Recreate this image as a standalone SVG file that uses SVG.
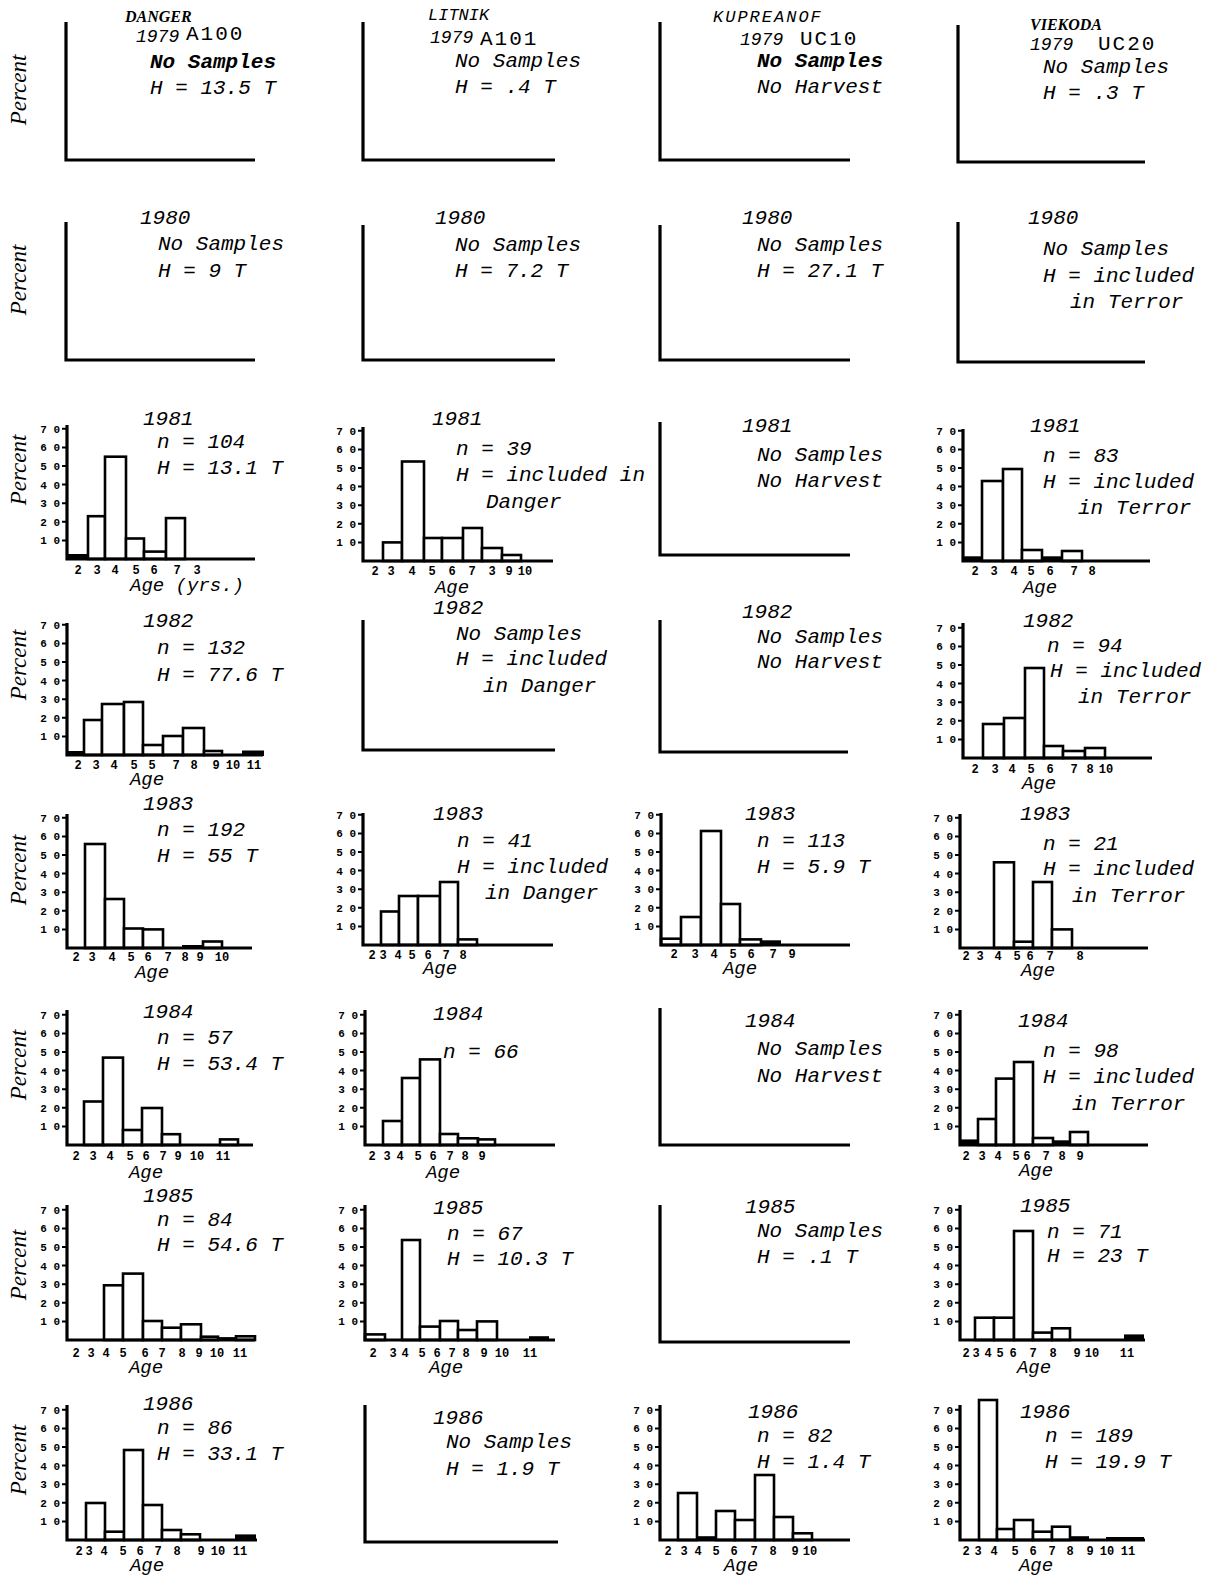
<svg xmlns="http://www.w3.org/2000/svg" xmlns:xlink="http://www.w3.org/1999/xlink" width="1218" height="1580" viewBox="0 0 1218 1580">
<style>
.ax{fill:none;stroke:#000;stroke-width:3.2;stroke-linejoin:miter}
.b{fill:#fff;stroke:#000;stroke-width:2.6}
.d{fill:#000;stroke:#000;stroke-width:2}
.tm{stroke:#000;stroke-width:2}
.t{font-family:"Liberation Mono",monospace;font-style:italic;font-size:21px;fill:#000}
.y9{font-family:"Liberation Mono",monospace;font-style:italic;font-size:18px;fill:#000}
.tb{font-family:"Liberation Mono",monospace;font-style:italic;font-weight:bold;font-size:21px;fill:#000}
.u{font-family:"Liberation Mono",monospace;font-size:21px;letter-spacing:2px;fill:#000}
.nm{font-family:"Liberation Mono",monospace;font-style:italic;font-size:17px;fill:#000}
.nmb{font-family:"Liberation Serif",serif;font-style:italic;font-weight:bold;font-size:16px;fill:#000}
.tk{font-family:"Liberation Mono",monospace;font-weight:bold;font-size:11px;fill:#000;text-anchor:end}
.xl{font-family:"Liberation Mono",monospace;font-weight:bold;font-size:12px;fill:#000;text-anchor:middle}
.ag{font-family:"Liberation Mono",monospace;font-style:italic;font-size:19px;fill:#000}
.pc{font-family:"Liberation Serif",serif;font-style:italic;font-size:23px;fill:#000;text-anchor:middle}
</style>
<defs>
<g id="yt">
<path class="tm" d="M-5,-18.6H0M-5,-37.2H0M-5,-55.8H0M-5,-74.4H0M-5,-93H0M-5,-111.6H0M-5,-130.2H0"/>
<text class="tk" x="-7" y="-14.6">1 0</text>
<text class="tk" x="-7" y="-33.2">2 0</text>
<text class="tk" x="-7" y="-51.8">3 0</text>
<text class="tk" x="-7" y="-70.4">4 0</text>
<text class="tk" x="-7" y="-89">5 0</text>
<text class="tk" x="-7" y="-107.6">6 0</text>
<text class="tk" x="-7" y="-126.2">7 0</text>
</g>
</defs>
<rect width="1218" height="1580" fill="#fff"/>

<g id="percent-labels">
<text class="pc" transform="translate(26,90) rotate(-90)">Percent</text>
<text class="pc" transform="translate(26,280) rotate(-90)">Percent</text>
<text class="pc" transform="translate(26,470) rotate(-90)">Percent</text>
<text class="pc" transform="translate(26,665) rotate(-90)">Percent</text>
<text class="pc" transform="translate(26,870) rotate(-90)">Percent</text>
<text class="pc" transform="translate(26,1065) rotate(-90)">Percent</text>
<text class="pc" transform="translate(26,1265) rotate(-90)">Percent</text>
<text class="pc" transform="translate(26,1460) rotate(-90)">Percent</text>
</g>

<!-- Row 1979 -->
<g id="danger-1979">
<path class="ax" d="M66,22V160H255"/>
<text class="nmb" x="125" y="22">DANGER</text>
<text class="y9" x="136" y="42">1979</text>
<text class="u" x="186" y="40">A100</text>
<text class="tb" x="150" y="68">No Samples</text>
<text class="t" x="150" y="94">H = 13.5 T</text>
</g>
<g id="litnik-1979">
<path class="ax" d="M363,22V160H555"/>
<text class="nm" x="428" y="20">LITNIK</text>
<text class="y9" x="430" y="43">1979</text>
<text class="u" x="480" y="45">A101</text>
<text class="t" x="455" y="67">No Samples</text>
<text class="t" x="455" y="93">H = .4 T</text>
</g>
<g id="kupreanof-1979">
<path class="ax" d="M660,22V160H850"/>
<text class="nm" x="713" y="22" letter-spacing="2">KUPREANOF</text>
<text class="y9" x="740" y="45">1979</text>
<text class="u" x="800" y="45">UC10</text>
<text class="tb" x="757" y="67">No Samples</text>
<text class="t" x="757" y="93">No Harvest</text>
</g>
<g id="viekoda-1979">
<path class="ax" d="M958,25V162H1145"/>
<text class="nmb" x="1030" y="30">VIEKODA</text>
<text class="y9" x="1030" y="50">1979</text>
<text class="u" x="1098" y="50">UC20</text>
<text class="t" x="1043" y="73">No Samples</text>
<text class="t" x="1043" y="99">H = .3 T</text>
</g>

<!-- Row 1980 -->
<g id="danger-1980">
<path class="ax" d="M66,222V360H255"/>
<text class="t" x="140" y="224">1980</text>
<text class="t" x="158" y="250">No Samples</text>
<text class="t" x="158" y="277">H = 9 T</text>
</g>
<g id="litnik-1980">
<path class="ax" d="M363,225V360H555"/>
<text class="t" x="435" y="224">1980</text>
<text class="t" x="455" y="251">No Samples</text>
<text class="t" x="455" y="277">H = 7.2 T</text>
</g>
<g id="kupreanof-1980">
<path class="ax" d="M660,225V360H850"/>
<text class="t" x="742" y="224">1980</text>
<text class="t" x="757" y="251">No Samples</text>
<text class="t" x="757" y="277">H = 27.1 T</text>
</g>
<g id="viekoda-1980">
<path class="ax" d="M958,222V362H1145"/>
<text class="t" x="1028" y="224">1980</text>
<text class="t" x="1043" y="255">No Samples</text>
<text class="t" x="1043" y="282">H = included</text>
<text class="t" x="1070" y="308">in Terror</text>
</g>

<!-- Row 1981 -->
<g id="danger-1981" transform="translate(67,559)">
<rect class="d" x="0" y="-4" width="21" height="4"/>
<rect class="b" x="21" y="-42.8" width="17" height="42.8"/>
<rect class="b" x="38" y="-102.3" width="21" height="102.3"/>
<rect class="b" x="59" y="-20.5" width="18" height="20.5"/>
<rect class="b" x="77" y="-7.4" width="22" height="7.4"/>
<rect class="b" x="99" y="-40.9" width="19" height="40.9"/>
<path class="ax" d="M0,-134V0H188"/>
<use href="#yt"/>
<text class="xl" x="11" y="15">2</text><text class="xl" x="30" y="15">3</text><text class="xl" x="48" y="15">4</text><text class="xl" x="69" y="15">5</text><text class="xl" x="87" y="15">6</text><text class="xl" x="110" y="15">7</text><text class="xl" x="130" y="15">3</text>
<text class="ag" x="63" y="32">Age (yrs.)</text>
<text class="t" x="76" y="-134">1981</text>
<text class="t" x="90" y="-111">n = 104</text>
<text class="t" x="90" y="-85">H = 13.1 T</text>
</g>
<g id="litnik-1981" transform="translate(363,561)">
<rect class="b" x="20" y="-18.6" width="19" height="18.6"/>
<rect class="b" x="39" y="-99.5" width="22" height="99.5"/>
<rect class="b" x="61" y="-23" width="18" height="23"/>
<rect class="b" x="79" y="-23" width="21" height="23"/>
<rect class="b" x="100" y="-33" width="19" height="33"/>
<rect class="b" x="119" y="-13" width="20" height="13"/>
<rect class="b" x="139" y="-6" width="19" height="6"/>
<path class="ax" d="M0,-134V0H190"/>
<use href="#yt"/>
<text class="xl" x="12" y="14">2</text><text class="xl" x="28" y="14">3</text><text class="xl" x="49" y="14">4</text><text class="xl" x="69" y="14">5</text><text class="xl" x="89" y="14">6</text><text class="xl" x="109" y="14">7</text><text class="xl" x="129" y="14">3</text><text class="xl" x="146" y="14">9</text><text class="xl" x="162" y="14">10</text>
<text class="ag" x="89" y="32" text-anchor="middle">Age</text>
<text class="t" x="69" y="-136">1981</text>
<text class="t" x="93" y="-106">n = 39</text>
<text class="t" x="93" y="-80">H = included in</text>
<text class="t" x="123" y="-53">Danger</text>
</g>
<g id="kupreanof-1981">
<path class="ax" d="M660,422V555H850"/>
<text class="t" x="742" y="432">1981</text>
<text class="t" x="757" y="461">No Samples</text>
<text class="t" x="757" y="487">No Harvest</text>
</g>
<g id="viekoda-1981" transform="translate(963,561)">
<rect class="d" x="0" y="-3.7" width="19" height="3.7"/>
<rect class="b" x="19" y="-80" width="21" height="80"/>
<rect class="b" x="40" y="-92" width="19" height="92"/>
<rect class="b" x="59" y="-11" width="20" height="11"/>
<rect class="d" x="79" y="-3.7" width="20" height="3.7"/>
<rect class="b" x="99" y="-10" width="20" height="10"/>
<path class="ax" d="M0,-132V0H187"/>
<use href="#yt"/>
<text class="xl" x="12" y="14">2</text><text class="xl" x="31" y="14">3</text><text class="xl" x="51" y="14">4</text><text class="xl" x="68" y="14">5</text><text class="xl" x="87" y="14">6</text><text class="xl" x="111" y="14">7</text><text class="xl" x="129" y="14">8</text>
<text class="ag" x="77" y="32" text-anchor="middle">Age</text>
<text class="t" x="67" y="-129">1981</text>
<text class="t" x="80" y="-99">n = 83</text>
<text class="t" x="80" y="-73">H = included</text>
<text class="t" x="115" y="-47">in Terror</text>
</g>

<!-- Row 1982 -->
<g id="danger-1982" transform="translate(67,755)">
<rect class="d" x="0" y="-3" width="17" height="3"/>
<rect class="b" x="17" y="-35" width="18" height="35"/>
<rect class="b" x="35" y="-51" width="22" height="51"/>
<rect class="b" x="57" y="-53" width="19" height="53"/>
<rect class="b" x="76" y="-10" width="20" height="10"/>
<rect class="b" x="96" y="-19" width="20" height="19"/>
<rect class="b" x="116" y="-27" width="21" height="27"/>
<rect class="b" x="137" y="-4" width="18" height="4"/>
<rect class="d" x="176" y="-3.5" width="20" height="3.5"/>
<path class="ax" d="M0,-132V0H196"/>
<use href="#yt"/>
<text class="xl" x="11" y="14">2</text><text class="xl" x="29" y="14">3</text><text class="xl" x="47" y="14">4</text><text class="xl" x="67" y="14">5</text><text class="xl" x="85" y="14">5</text><text class="xl" x="109" y="14">7</text><text class="xl" x="127" y="14">8</text><text class="xl" x="149" y="14">9</text><text class="xl" x="166" y="14">10</text><text class="xl" x="187" y="14">11</text>
<text class="ag" x="80" y="30" text-anchor="middle">Age</text>
<text class="t" x="76" y="-128">1982</text>
<text class="t" x="90" y="-101">n = 132</text>
<text class="t" x="90" y="-74">H = 77.6 T</text>
</g>
<g id="litnik-1982">
<path class="ax" d="M363,620V750H555"/>
<text class="t" x="433" y="614">1982</text>
<text class="t" x="456" y="640">No Samples</text>
<text class="t" x="456" y="665">H = included</text>
<text class="t" x="483" y="692">in Danger</text>
</g>
<g id="kupreanof-1982">
<path class="ax" d="M660,620V752H848"/>
<text class="t" x="742" y="618">1982</text>
<text class="t" x="757" y="643">No Samples</text>
<text class="t" x="757" y="668">No Harvest</text>
</g>
<g id="viekoda-1982" transform="translate(963,758)">
<rect class="b" x="20" y="-34" width="21" height="34"/>
<rect class="b" x="41" y="-40" width="21" height="40"/>
<rect class="b" x="62" y="-90" width="19" height="90"/>
<rect class="b" x="81" y="-12" width="19" height="12"/>
<rect class="b" x="100" y="-7" width="22" height="7"/>
<rect class="b" x="122" y="-10" width="20" height="10"/>
<path class="ax" d="M0,-135V0H189"/>
<use href="#yt"/>
<text class="xl" x="12" y="15">2</text><text class="xl" x="32" y="15">3</text><text class="xl" x="49" y="15">4</text><text class="xl" x="68" y="15">5</text><text class="xl" x="87" y="15">6</text><text class="xl" x="111" y="15">7</text><text class="xl" x="127" y="15">8</text><text class="xl" x="143" y="15">10</text>
<text class="ag" x="76" y="31" text-anchor="middle">Age</text>
<text class="t" x="60" y="-131">1982</text>
<text class="t" x="84" y="-106">n = 94</text>
<text class="t" x="87" y="-81">H = included</text>
<text class="t" x="115" y="-55">in Terror</text>
</g>

<!-- Row 1983 -->
<g id="danger-1983" transform="translate(67,948)">
<rect class="b" x="18" y="-104" width="20" height="104"/>
<rect class="b" x="38" y="-49" width="19" height="49"/>
<rect class="b" x="57" y="-19.5" width="19" height="19.5"/>
<rect class="b" x="76" y="-18.6" width="20" height="18.6"/>
<rect class="d" x="116" y="-2" width="20" height="2"/>
<rect class="b" x="136" y="-6.5" width="19" height="6.5"/>
<path class="ax" d="M0,-134V0H185"/>
<use href="#yt"/>
<text class="xl" x="9" y="13">2</text><text class="xl" x="25" y="13">3</text><text class="xl" x="45" y="13">4</text><text class="xl" x="64" y="13">5</text><text class="xl" x="81" y="13">6</text><text class="xl" x="101" y="13">7</text><text class="xl" x="118" y="13">8</text><text class="xl" x="133" y="13">9</text><text class="xl" x="155" y="13">10</text>
<text class="ag" x="85" y="30" text-anchor="middle">Age</text>
<text class="t" x="76" y="-138">1983</text>
<text class="t" x="90" y="-112">n = 192</text>
<text class="t" x="90" y="-86">H = 55 T</text>
</g>
<g id="litnik-1983" transform="translate(363,945)">
<rect class="b" x="18" y="-33.5" width="18" height="33.5"/>
<rect class="b" x="36" y="-49" width="19" height="49"/>
<rect class="b" x="55" y="-49" width="22" height="49"/>
<rect class="b" x="77" y="-63" width="18" height="63"/>
<rect class="b" x="95" y="-5.6" width="19" height="5.6"/>
<path class="ax" d="M0,-132V0H190"/>
<use href="#yt"/>
<text class="xl" x="9" y="14">2</text><text class="xl" x="20" y="14">3</text><text class="xl" x="35" y="14">4</text><text class="xl" x="49" y="14">5</text><text class="xl" x="65" y="14">6</text><text class="xl" x="83" y="14">7</text><text class="xl" x="100" y="14">8</text>
<text class="ag" x="77" y="29" text-anchor="middle">Age</text>
<text class="t" x="70" y="-125">1983</text>
<text class="t" x="94" y="-98">n = 41</text>
<text class="t" x="94" y="-72">H = included</text>
<text class="t" x="122" y="-46">in Danger</text>
</g>
<g id="kupreanof-1983" transform="translate(661,945)">
<rect class="b" x="0" y="-6.3" width="20" height="6.3"/>
<rect class="b" x="20" y="-28" width="20" height="28"/>
<rect class="b" x="40" y="-114" width="20" height="114"/>
<rect class="b" x="60" y="-41" width="19" height="41"/>
<rect class="b" x="79" y="-5.6" width="21" height="5.6"/>
<rect class="d" x="100" y="-3.7" width="19" height="3.7"/>
<path class="ax" d="M0,-132V0H189"/>
<use href="#yt"/>
<text class="xl" x="13" y="13">2</text><text class="xl" x="34" y="13">3</text><text class="xl" x="53" y="13">4</text><text class="xl" x="72" y="13">5</text><text class="xl" x="90" y="13">6</text><text class="xl" x="112" y="13">7</text><text class="xl" x="131" y="13">9</text>
<text class="ag" x="79" y="29" text-anchor="middle">Age</text>
<text class="t" x="84" y="-125">1983</text>
<text class="t" x="96" y="-98">n = 113</text>
<text class="t" x="96" y="-72">H = 5.9 T</text>
</g>
<g id="viekoda-1983" transform="translate(960,948)">
<rect class="b" x="34" y="-85.7" width="20" height="85.7"/>
<rect class="b" x="54" y="-6.3" width="19" height="6.3"/>
<rect class="b" x="73" y="-66" width="19" height="66"/>
<rect class="b" x="92" y="-18.6" width="20" height="18.6"/>
<path class="ax" d="M0,-134V0H188"/>
<use href="#yt"/>
<text class="xl" x="6" y="12">2</text><text class="xl" x="20" y="12">3</text><text class="xl" x="38" y="12">4</text><text class="xl" x="57" y="12">5</text><text class="xl" x="70" y="12">6</text><text class="xl" x="90" y="12">7</text><text class="xl" x="120" y="12">8</text>
<text class="ag" x="78" y="28" text-anchor="middle">Age</text>
<text class="t" x="60" y="-128">1983</text>
<text class="t" x="83" y="-98">n = 21</text>
<text class="t" x="83" y="-73">H = included</text>
<text class="t" x="112" y="-46">in Terror</text>
</g>

<!-- Row 1984 -->
<g id="danger-1984" transform="translate(67,1145)">
<rect class="b" x="17" y="-43.5" width="19" height="43.5"/>
<rect class="b" x="36" y="-87.4" width="20" height="87.4"/>
<rect class="b" x="56" y="-15" width="19" height="15"/>
<rect class="b" x="75" y="-37" width="20" height="37"/>
<rect class="b" x="95" y="-10.8" width="18" height="10.8"/>
<rect class="b" x="153" y="-5.6" width="18" height="5.6"/>
<path class="ax" d="M0,-135V0H186"/>
<use href="#yt"/>
<text class="xl" x="9" y="15">2</text><text class="xl" x="26" y="15">3</text><text class="xl" x="43" y="15">4</text><text class="xl" x="63" y="15">5</text><text class="xl" x="79" y="15">6</text><text class="xl" x="96" y="15">7</text><text class="xl" x="111" y="15">9</text><text class="xl" x="130" y="15">10</text><text class="xl" x="156" y="15">11</text>
<text class="ag" x="79" y="33" text-anchor="middle">Age</text>
<text class="t" x="76" y="-127">1984</text>
<text class="t" x="90" y="-101">n = 57</text>
<text class="t" x="90" y="-75">H = 53.4 T</text>
</g>
<g id="litnik-1984" transform="translate(365,1145)">
<rect class="b" x="18" y="-24" width="19" height="24"/>
<rect class="b" x="37" y="-67" width="18" height="67"/>
<rect class="b" x="55" y="-85.6" width="20" height="85.6"/>
<rect class="b" x="75" y="-11" width="18" height="11"/>
<rect class="b" x="93" y="-6.7" width="20" height="6.7"/>
<rect class="b" x="113" y="-5.6" width="17" height="5.6"/>
<path class="ax" d="M0,-135V0H190"/>
<use href="#yt"/>
<text class="xl" x="7" y="15">2</text><text class="xl" x="22" y="15">3</text><text class="xl" x="35" y="15">4</text><text class="xl" x="53" y="15">5</text><text class="xl" x="68" y="15">6</text><text class="xl" x="85" y="15">7</text><text class="xl" x="100" y="15">8</text><text class="xl" x="117" y="15">9</text>
<text class="ag" x="78" y="33" text-anchor="middle">Age</text>
<text class="t" x="68" y="-125">1984</text>
<text class="t" x="78" y="-87">n = 66</text>
</g>
<g id="kupreanof-1984">
<path class="ax" d="M660,1008V1145H850"/>
<text class="t" x="745" y="1027">1984</text>
<text class="t" x="757" y="1055">No Samples</text>
<text class="t" x="757" y="1082">No Harvest</text>
</g>
<g id="viekoda-1984" transform="translate(960,1145)">
<rect class="d" x="0" y="-4.6" width="18" height="4.6"/>
<rect class="b" x="18" y="-26" width="18" height="26"/>
<rect class="b" x="36" y="-66.4" width="18" height="66.4"/>
<rect class="b" x="54" y="-83" width="19" height="83"/>
<rect class="b" x="73" y="-7" width="20" height="7"/>
<rect class="d" x="93" y="-3.7" width="17" height="3.7"/>
<rect class="b" x="110" y="-13" width="18" height="13"/>
<path class="ax" d="M0,-135V0H188"/>
<use href="#yt"/>
<text class="xl" x="6" y="15">2</text><text class="xl" x="22" y="15">3</text><text class="xl" x="38" y="15">4</text><text class="xl" x="56" y="15">5</text><text class="xl" x="67" y="15">6</text><text class="xl" x="86" y="15">7</text><text class="xl" x="102" y="15">8</text><text class="xl" x="120" y="15">9</text>
<text class="ag" x="76" y="31" text-anchor="middle">Age</text>
<text class="t" x="58" y="-118">1984</text>
<text class="t" x="83" y="-88">n = 98</text>
<text class="t" x="83" y="-62">H = included</text>
<text class="t" x="112" y="-35">in Terror</text>
</g>

<!-- Row 1985 -->
<g id="danger-1985" transform="translate(67,1340)">
<rect class="b" x="37" y="-54.7" width="19" height="54.7"/>
<rect class="b" x="56" y="-66.4" width="20" height="66.4"/>
<rect class="b" x="76" y="-19" width="19" height="19"/>
<rect class="b" x="95" y="-12.3" width="19" height="12.3"/>
<rect class="b" x="114" y="-15.7" width="20" height="15.7"/>
<rect class="b" x="134" y="-3.3" width="17" height="3.3"/>
<rect class="d" x="151" y="-1.9" width="18" height="1.9"/>
<rect class="b" x="169" y="-3.7" width="19" height="3.7"/>
<path class="ax" d="M0,-135V0H188"/>
<use href="#yt"/>
<text class="xl" x="9" y="17">2</text><text class="xl" x="24" y="17">3</text><text class="xl" x="39" y="17">4</text><text class="xl" x="56" y="17">5</text><text class="xl" x="78" y="17">6</text><text class="xl" x="95" y="17">7</text><text class="xl" x="115" y="17">8</text><text class="xl" x="132" y="17">9</text><text class="xl" x="150" y="17">10</text><text class="xl" x="173" y="17">11</text>
<text class="ag" x="79" y="33" text-anchor="middle">Age</text>
<text class="t" x="76" y="-138">1985</text>
<text class="t" x="90" y="-114">n = 84</text>
<text class="t" x="90" y="-89">H = 54.6 T</text>
</g>
<g id="litnik-1985" transform="translate(365,1340)">
<rect class="b" x="0" y="-5.6" width="20" height="5.6"/>
<rect class="b" x="37" y="-100" width="18" height="100"/>
<rect class="b" x="55" y="-13.4" width="20" height="13.4"/>
<rect class="b" x="75" y="-19" width="18" height="19"/>
<rect class="b" x="93" y="-10" width="19" height="10"/>
<rect class="b" x="112" y="-18.6" width="20" height="18.6"/>
<rect class="d" x="165" y="-2.8" width="18" height="2.8"/>
<path class="ax" d="M0,-135V0H190"/>
<use href="#yt"/>
<text class="xl" x="8" y="17">2</text><text class="xl" x="28" y="17">3</text><text class="xl" x="40" y="17">4</text><text class="xl" x="57" y="17">5</text><text class="xl" x="72" y="17">6</text><text class="xl" x="87" y="17">7</text><text class="xl" x="101" y="17">8</text><text class="xl" x="119" y="17">9</text><text class="xl" x="137" y="17">10</text><text class="xl" x="165" y="17">11</text>
<text class="ag" x="81" y="33" text-anchor="middle">Age</text>
<text class="t" x="68" y="-126">1985</text>
<text class="t" x="82" y="-100">n = 67</text>
<text class="t" x="82" y="-75">H = 10.3 T</text>
</g>
<g id="kupreanof-1985">
<path class="ax" d="M660,1205V1342H850"/>
<text class="t" x="745" y="1213">1985</text>
<text class="t" x="757" y="1237">No Samples</text>
<text class="t" x="757" y="1263">H = .1 T</text>
</g>
<g id="viekoda-1985" transform="translate(960,1340)">
<text class="t" x="87" y="-102">n = 71</text>
<text class="t" x="87" y="-78">H = 23 T</text>
<rect class="b" x="15" y="-22.3" width="19" height="22.3"/>
<rect class="b" x="34" y="-22.3" width="20" height="22.3"/>
<rect class="b" x="54" y="-109" width="19" height="109"/>
<rect class="b" x="73" y="-7.4" width="19" height="7.4"/>
<rect class="b" x="92" y="-11.7" width="18" height="11.7"/>
<rect class="d" x="165" y="-4.6" width="18" height="4.6"/>
<path class="ax" d="M0,-135V0H185"/>
<use href="#yt"/>
<text class="xl" x="6" y="17">2</text><text class="xl" x="16" y="17">3</text><text class="xl" x="28" y="17">4</text><text class="xl" x="40" y="17">5</text><text class="xl" x="53" y="17">6</text><text class="xl" x="73" y="17">7</text><text class="xl" x="93" y="17">8</text><text class="xl" x="117" y="17">9</text><text class="xl" x="132" y="17">10</text><text class="xl" x="167" y="17">11</text>
<text class="ag" x="74" y="33" text-anchor="middle">Age</text>
<text class="t" x="60" y="-128">1985</text>
</g>

<!-- Row 1986 -->
<g id="danger-1986" transform="translate(67,1540)">
<rect class="b" x="19" y="-37" width="19" height="37"/>
<rect class="b" x="38" y="-8.3" width="19" height="8.3"/>
<rect class="b" x="57" y="-90" width="19" height="90"/>
<rect class="b" x="76" y="-35" width="19" height="35"/>
<rect class="b" x="95" y="-10" width="19" height="10"/>
<rect class="b" x="114" y="-5.7" width="19" height="5.7"/>
<rect class="d" x="169" y="-4.6" width="19" height="4.6"/>
<path class="ax" d="M0,-135V0H190"/>
<use href="#yt"/>
<text class="xl" x="12" y="15">2</text><text class="xl" x="22" y="15">3</text><text class="xl" x="37" y="15">4</text><text class="xl" x="56" y="15">5</text><text class="xl" x="73" y="15">6</text><text class="xl" x="91" y="15">7</text><text class="xl" x="110" y="15">8</text><text class="xl" x="134" y="15">9</text><text class="xl" x="151" y="15">10</text><text class="xl" x="173" y="15">11</text>
<text class="ag" x="80" y="31" text-anchor="middle">Age</text>
<text class="t" x="76" y="-130">1986</text>
<text class="t" x="90" y="-106">n = 86</text>
<text class="t" x="90" y="-80">H = 33.1 T</text>
</g>
<g id="litnik-1986">
<path class="ax" d="M365,1405V1542H558"/>
<text class="t" x="433" y="1424">1986</text>
<text class="t" x="446" y="1448">No Samples</text>
<text class="t" x="446" y="1475">H = 1.9 T</text>
</g>
<g id="kupreanof-1986" transform="translate(660,1540)">
<rect class="b" x="18" y="-47" width="19" height="47"/>
<rect class="d" x="37" y="-2.8" width="19" height="2.8"/>
<rect class="b" x="56" y="-29" width="19" height="29"/>
<rect class="b" x="75" y="-20" width="20" height="20"/>
<rect class="b" x="95" y="-65" width="19" height="65"/>
<rect class="b" x="114" y="-23" width="19" height="23"/>
<rect class="b" x="133" y="-6.7" width="19" height="6.7"/>
<path class="ax" d="M0,-135V0H190"/>
<use href="#yt"/>
<text class="xl" x="8" y="15">2</text><text class="xl" x="24" y="15">3</text><text class="xl" x="38" y="15">4</text><text class="xl" x="56" y="15">5</text><text class="xl" x="74" y="15">6</text><text class="xl" x="94" y="15">7</text><text class="xl" x="113" y="15">8</text><text class="xl" x="135" y="15">9</text><text class="xl" x="150" y="15">10</text>
<text class="ag" x="81" y="31" text-anchor="middle">Age</text>
<text class="t" x="88" y="-122">1986</text>
<text class="t" x="97" y="-98">n = 82</text>
<text class="t" x="97" y="-72">H = 1.4 T</text>
</g>
<g id="viekoda-1986" transform="translate(960,1540)">
<rect class="b" x="19" y="-140" width="18" height="140"/>
<rect class="b" x="37" y="-11" width="17" height="11"/>
<rect class="b" x="54" y="-20" width="19" height="20"/>
<rect class="b" x="73" y="-8.3" width="19" height="8.3"/>
<rect class="b" x="92" y="-13.3" width="18" height="13.3"/>
<rect class="d" x="110" y="-2.8" width="18" height="2.8"/>
<rect class="d" x="147" y="-2" width="18" height="2"/>
<rect class="d" x="165" y="-2" width="18" height="2"/>
<path class="ax" d="M0,-135V0H185"/>
<use href="#yt"/>
<text class="xl" x="6" y="15">2</text><text class="xl" x="18" y="15">3</text><text class="xl" x="34" y="15">4</text><text class="xl" x="55" y="15">5</text><text class="xl" x="73" y="15">6</text><text class="xl" x="92" y="15">7</text><text class="xl" x="110" y="15">8</text><text class="xl" x="130" y="15">9</text><text class="xl" x="147" y="15">10</text><text class="xl" x="168" y="15">11</text>
<text class="ag" x="76" y="31" text-anchor="middle">Age</text>
<text class="t" x="60" y="-122">1986</text>
<text class="t" x="85" y="-98">n = 189</text>
<text class="t" x="85" y="-72">H = 19.9 T</text>
</g>
</svg>
